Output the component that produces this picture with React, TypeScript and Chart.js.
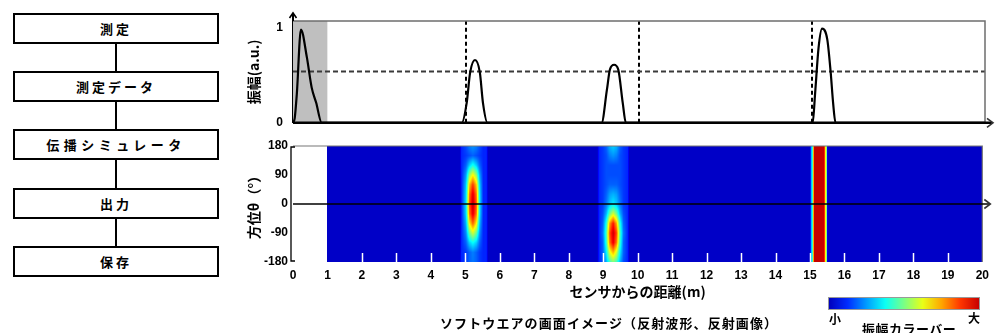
import React, { useEffect, useRef } from 'react';
import { Chart, registerables } from 'chart.js';

Chart.register(...registerables);

// ---------- data ----------
const flowSteps = ['測定', '測定データ', '伝播シミュレータ', '出力', '保存'];

const distanceM = [0, 0.05, 0.11, 0.23, 0.4, 0.54, 0.67, 0.83, 4.88, 5.02, 5.12, 5.26, 5.4, 5.49, 5.62, 8.92, 9.07, 9.16, 9.28, 9.4, 9.53, 9.62, 15.02, 15.09, 15.19, 15.29, 15.44, 15.54, 15.61, 15.68, 20];
const amplitude = [0, 0.05, 0.3, 0.98, 0.69, 0.37, 0.21, 0, 0, 0.21, 0.53, 0.66, 0.53, 0.21, 0, 0, 0.34, 0.56, 0.61, 0.56, 0.21, 0, 0, 0.31, 0.79, 0.99, 0.88, 0.53, 0.21, 0, 0];
const amplitudeTicks = [0, 1];
const amplitudeMax = 1.07;
const shadeRange = [0, 1];
const thresholdLevel = 0.54;
const markerDistances = [5, 10, 15];

const distanceTicks = [0, 1, 2, 3, 4, 5, 6, 7, 8, 9, 10, 11, 12, 13, 14, 15, 16, 17, 18, 19, 20];
const azimuthTicks = [180, 90, 0, -90, -180];

const heatRangeX = [1, 20];
const heatBackground = 0.07;
const rowThetas = [180, 150, 120, 90, 60, 30, 0, -30, -60, -90, -120, -150, -180];

const blobAX = [4.84, 4.89, 5.02, 5.12, 5.22, 5.32, 5.42, 5.52, 5.61, 5.66];
const blobAValues = [
  [0.07, 0.16, 0.2, 0.25, 0.27, 0.25, 0.2, 0.16, 0.16, 0.07],
  [0.07, 0.16, 0.18, 0.2, 0.22, 0.2, 0.18, 0.16, 0.16, 0.07],
  [0.07, 0.16, 0.22, 0.33, 0.4, 0.33, 0.22, 0.16, 0.16, 0.07],
  [0.07, 0.16, 0.28, 0.52, 0.63, 0.52, 0.28, 0.16, 0.16, 0.07],
  [0.07, 0.16, 0.32, 0.68, 0.82, 0.68, 0.32, 0.16, 0.16, 0.07],
  [0.07, 0.16, 0.34, 0.76, 0.91, 0.76, 0.34, 0.16, 0.16, 0.07],
  [0.07, 0.16, 0.35, 0.79, 0.94, 0.79, 0.35, 0.16, 0.16, 0.07],
  [0.07, 0.16, 0.34, 0.76, 0.91, 0.76, 0.34, 0.16, 0.16, 0.07],
  [0.07, 0.16, 0.3, 0.64, 0.78, 0.64, 0.3, 0.16, 0.16, 0.07],
  [0.07, 0.16, 0.26, 0.48, 0.58, 0.48, 0.26, 0.16, 0.16, 0.07],
  [0.07, 0.16, 0.22, 0.33, 0.38, 0.33, 0.22, 0.16, 0.16, 0.07],
  [0.07, 0.16, 0.18, 0.22, 0.25, 0.22, 0.18, 0.16, 0.16, 0.07],
  [0.07, 0.16, 0.18, 0.22, 0.24, 0.22, 0.18, 0.16, 0.16, 0.07],
];

const blobBX = [8.83, 8.88, 8.99, 9.09, 9.19, 9.29, 9.39, 9.49, 9.59, 9.71, 9.76];
const blobBValues = [
  [0.07, 0.16, 0.18, 0.22, 0.3, 0.33, 0.3, 0.22, 0.18, 0.16, 0.07],
  [0.07, 0.16, 0.18, 0.2, 0.25, 0.27, 0.25, 0.2, 0.18, 0.16, 0.07],
  [0.07, 0.16, 0.18, 0.2, 0.2, 0.2, 0.2, 0.2, 0.18, 0.16, 0.07],
  [0.07, 0.16, 0.18, 0.2, 0.2, 0.2, 0.2, 0.2, 0.18, 0.16, 0.07],
  [0.07, 0.16, 0.18, 0.2, 0.22, 0.22, 0.22, 0.2, 0.18, 0.16, 0.07],
  [0.07, 0.16, 0.18, 0.22, 0.28, 0.3, 0.28, 0.22, 0.18, 0.16, 0.07],
  [0.07, 0.16, 0.18, 0.24, 0.32, 0.36, 0.32, 0.24, 0.18, 0.16, 0.07],
  [0.07, 0.16, 0.2, 0.3, 0.48, 0.58, 0.48, 0.3, 0.2, 0.16, 0.07],
  [0.07, 0.16, 0.22, 0.4, 0.72, 0.86, 0.7, 0.4, 0.22, 0.16, 0.07],
  [0.07, 0.16, 0.24, 0.44, 0.8, 0.93, 0.8, 0.44, 0.24, 0.16, 0.07],
  [0.07, 0.16, 0.22, 0.42, 0.76, 0.9, 0.75, 0.42, 0.22, 0.16, 0.07],
  [0.07, 0.16, 0.22, 0.36, 0.6, 0.7, 0.58, 0.36, 0.22, 0.16, 0.07],
  [0.07, 0.16, 0.2, 0.3, 0.44, 0.5, 0.44, 0.3, 0.2, 0.16, 0.07],
];

const bandCX = [15.0, 15.04, 15.08, 15.12, 15.41, 15.44, 15.48, 15.51];
const bandCThetas = [180, -180];
const bandCValues = [
  [0.07, 0.3, 0.45, 0.93, 0.93, 0.65, 0.5, 0.07],
  [0.07, 0.3, 0.45, 0.93, 0.93, 0.65, 0.5, 0.07],
];

const colorbarRange = [0.06, 0.93];

// ---------- helpers ----------
const FONT = "'Liberation Sans', 'Noto Sans CJK JP', sans-serif";
const JP = "'Noto Sans CJK JP', 'Liberation Sans', sans-serif";

function jet(v: number): number[] {
  const c = (t: number) => Math.max(0, Math.min(1, t));
  return [c(1.5 - Math.abs(4 * v - 3)), c(1.5 - Math.abs(4 * v - 2)), c(1.5 - Math.abs(4 * v - 1))].map((t) => Math.round(t * 255));
}

const heatPatches = [
  { xs: blobAX, thetas: rowThetas, values: blobAValues },
  { xs: blobBX, thetas: rowThetas, values: blobBValues },
  { xs: bandCX, thetas: bandCThetas, values: bandCValues },
];

function locate(arr: number[], v: number): [number, number] | null {
  for (let i = 0; i < arr.length - 1; i++) {
    const a = arr[i];
    const b = arr[i + 1];
    if ((v - a) * (v - b) <= 0) return [i, a === b ? 0 : (v - a) / (b - a)];
  }
  return null;
}

function sampleHeat(x: number, th: number): number | null {
  if (x < heatRangeX[0] || x > heatRangeX[1]) return null;
  for (const p of heatPatches) {
    const ix = locate(p.xs, x);
    if (!ix) continue;
    const iy = locate(p.thetas, th);
    if (!iy) continue;
    const [i, tx] = ix;
    const [j, ty] = iy;
    const r0 = p.values[j];
    const r1 = p.values[j + 1];
    const top = r0[i] * (1 - tx) + r0[i + 1] * tx;
    const bot = r1[i] * (1 - tx) + r1[i + 1] * tx;
    return top * (1 - ty) + bot * ty;
  }
  return heatBackground;
}

function arrowRight(ctx: CanvasRenderingContext2D, x: number, y: number) {
  ctx.beginPath();
  ctx.moveTo(x - 6, y - 4.5);
  ctx.lineTo(x, y);
  ctx.lineTo(x - 6, y + 4.5);
  ctx.stroke();
}

// ---------- component ----------
export default function App() {
  const topRef = useRef<HTMLCanvasElement>(null);
  const heatRef = useRef<HTMLCanvasElement>(null);

  useEffect(() => {
    const topDecor = {
      id: 'topDecor',
      afterDraw(chart: any) {
        const { ctx, chartArea, scales } = chart;
        const { left, right, top, bottom } = chartArea;
        ctx.save();
        ctx.strokeStyle = '#6e6e6e';
        ctx.lineWidth = 1.5;
        ctx.beginPath();
        ctx.moveTo(left, top);
        ctx.lineTo(right, top);
        ctx.lineTo(right, bottom);
        ctx.stroke();
        const y0 = scales.y.getPixelForValue(0);
        ctx.strokeStyle = '#000';
        ctx.lineWidth = 2.5;
        ctx.beginPath();
        ctx.moveTo(left, y0);
        ctx.lineTo(right + 7, y0);
        ctx.stroke();
        ctx.lineWidth = 1.6;
        ctx.strokeStyle = '#333';
        arrowRight(ctx, right + 8, y0);
        ctx.strokeStyle = '#000';
        ctx.lineWidth = 2;
        ctx.beginPath();
        ctx.moveTo(left, top);
        ctx.lineTo(left, top - 8);
        ctx.stroke();
        ctx.lineWidth = 1.6;
        ctx.beginPath();
        ctx.moveTo(left - 3.5, top - 3);
        ctx.lineTo(left, top - 8);
        ctx.lineTo(left + 3.5, top - 3);
        ctx.stroke();
        ctx.restore();
      },
    };

    const heatLayer = {
      id: 'heatLayer',
      beforeDraw(chart: any) {
        const { ctx, chartArea, scales } = chart;
        const { left, right, top, bottom } = chartArea;
        const w = Math.round(right - left);
        const h = Math.round(bottom - top);
        const off = document.createElement('canvas');
        off.width = w;
        off.height = h;
        const octx = off.getContext('2d')!;
        const img = octx.createImageData(w, h);
        for (let py = 0; py < h; py++) {
          const th = scales.y.getValueForPixel(top + py + 0.5);
          for (let px = 0; px < w; px++) {
            const xv = scales.x.getValueForPixel(left + px + 0.5);
            const v = sampleHeat(xv, th);
            if (v === null) continue;
            const [r, g, b] = jet(v);
            const k = (py * w + px) * 4;
            img.data[k] = r;
            img.data[k + 1] = g;
            img.data[k + 2] = b;
            img.data[k + 3] = 255;
          }
        }
        octx.putImageData(img, 0, 0);
        ctx.drawImage(off, left, top);
      },
      afterDraw(chart: any) {
        const { ctx, chartArea, scales } = chart;
        const { left, right, top, bottom } = chartArea;
        ctx.save();
        ctx.strokeStyle = '#ffffff';
        ctx.lineWidth = 1.5;
        for (const d of distanceTicks) {
          if (d <= heatRangeX[0] || d >= heatRangeX[1]) continue;
          const x = Math.round(scales.x.getPixelForValue(d)) + 0.5;
          ctx.beginPath();
          ctx.moveTo(x, bottom - 9);
          ctx.lineTo(x, bottom);
          ctx.stroke();
        }
        ctx.strokeStyle = '#777';
        ctx.lineWidth = 1.2;
        ctx.beginPath();
        ctx.moveTo(left, top);
        ctx.lineTo(right, top);
        ctx.lineTo(right, bottom);
        ctx.stroke();
        const y0 = scales.y.getPixelForValue(0);
        ctx.strokeStyle = '#000';
        ctx.lineWidth = 1.3;
        ctx.beginPath();
        ctx.moveTo(left, y0);
        ctx.lineTo(right + 7, y0);
        ctx.stroke();
        ctx.strokeStyle = '#333';
        ctx.lineWidth = 1.6;
        arrowRight(ctx, right + 8, y0);
        ctx.strokeStyle = '#000';
        ctx.lineWidth = 1.3;
        ctx.beginPath();
        ctx.moveTo(left - 2 + 4, top + 1);
        ctx.lineTo(left - 2, top + 1);
        ctx.lineTo(left - 2, bottom - 1);
        ctx.lineTo(left - 2 + 4, bottom - 1);
        ctx.stroke();
        ctx.restore();
      },
    };

    const tickFont = { family: FONT, size: 12, weight: 'bold' as const };

    const topChart = new Chart(topRef.current!, {
      type: 'line',
      data: {
        datasets: [
          {
            label: 'signal',
            data: distanceM.map((x, i) => ({ x, y: amplitude[i] })),
            borderColor: '#000',
            borderWidth: 2.2,
            pointRadius: 0,
            cubicInterpolationMode: 'monotone',
            fill: false,
            order: 1,
          },
          {
            label: 'threshold',
            data: [{ x: 0, y: thresholdLevel }, { x: 20, y: thresholdLevel }],
            borderColor: '#3a3a3a',
            borderWidth: 2,
            borderDash: [5, 3],
            pointRadius: 0,
            fill: false,
            order: 2,
          },
          ...markerDistances.map((d) => ({
            label: 'marker' + d,
            data: [{ x: d, y: 0 }, { x: d, y: amplitudeMax }],
            borderColor: '#000',
            borderWidth: 2,
            borderDash: [4, 3],
            pointRadius: 0,
            fill: false,
            order: 2,
          })),
          {
            label: 'shade',
            data: shadeRange.map((x) => ({ x, y: amplitudeMax })),
            borderWidth: 0,
            borderColor: 'rgba(0,0,0,0)',
            backgroundColor: '#bfbfbf',
            pointRadius: 0,
            fill: 'origin',
            order: 3,
          },
        ] as any,
      },
      options: {
        responsive: false,
        animation: false,
        devicePixelRatio: 1,
        events: [],
        layout: { padding: { left: 0, right: 10, top: 21, bottom: 8 } },
        plugins: { legend: { display: false }, tooltip: { enabled: false } },
        scales: {
          x: { type: 'linear', min: 0, max: 20, display: false },
          y: {
            type: 'linear',
            min: 0,
            max: amplitudeMax,
            afterBuildTicks: (s: any) => {
              s.ticks = amplitudeTicks.map((v) => ({ value: v }));
            },
            afterFit: (s: any) => {
              s.width = 53;
            },
            grid: { display: false, drawTicks: false },
            border: { display: true, color: '#000', width: 2 },
            ticks: { padding: 10, font: tickFont, color: '#000' },
            title: {
              display: true,
              text: '振幅(a.u.)',
              color: '#000',
              font: { family: JP, size: 14, weight: 'bold' },
              padding: { top: 5, bottom: 0 },
            },
          },
        },
      } as any,
      plugins: [topDecor],
    });

    const heatChart = new Chart(heatRef.current!, {
      type: 'scatter',
      data: { datasets: [{ label: 'heat', data: [] }] },
      options: {
        responsive: false,
        animation: false,
        devicePixelRatio: 1,
        events: [],
        layout: { padding: { left: 0, right: 10, top: 14, bottom: 31 } },
        plugins: { legend: { display: false }, tooltip: { enabled: false } },
        scales: {
          x: {
            type: 'linear',
            min: 0,
            max: 20,
            afterBuildTicks: (s: any) => {
              s.ticks = distanceTicks.map((v) => ({ value: v }));
            },
            afterFit: (s: any) => {
              s.height = 40;
            },
            grid: { display: false, drawTicks: false },
            border: { display: false },
            ticks: { padding: 6, font: tickFont, color: '#000', autoSkip: false, maxRotation: 0 },
            title: {
              display: true,
              text: 'センサからの距離(m)',
              color: '#000',
              font: { family: JP, size: 14, weight: 'bold' },
              padding: { top: 0, bottom: 2 },
            },
          },
          y: {
            type: 'linear',
            min: -180,
            max: 180,
            afterBuildTicks: (s: any) => {
              s.ticks = azimuthTicks.map((v) => ({ value: v }));
            },
            afterFit: (s: any) => {
              s.width = 53;
            },
            grid: { display: false, drawTicks: false },
            border: { display: false },
            ticks: { padding: 5, font: tickFont, color: '#000' },
            title: {
              display: true,
              text: '方位θ（°）',
              color: '#000',
              font: { family: JP, size: 14, weight: 'bold' },
              padding: { top: 5, bottom: 0 },
            },
          },
        },
      } as any,
      plugins: [heatLayer],
    });

    return () => {
      topChart.destroy();
      heatChart.destroy();
    };
  }, []);

  const boxTops = [13, 71, 129, 188, 246];
  const stops = Array.from({ length: 9 }, (_, i) => {
    const v = colorbarRange[0] + ((colorbarRange[1] - colorbarRange[0]) * i) / 8;
    const [r, g, b] = jet(v);
    return `rgb(${r},${g},${b}) ${(i / 8) * 100}%`;
  }).join(', ');

  const txt: React.CSSProperties = {
    position: 'absolute',
    fontFamily: JP,
    fontWeight: 'bold',
    color: '#000',
    whiteSpace: 'nowrap',
    lineHeight: 1,
  };

  return (
    <div style={{ position: 'absolute', left: 0, top: 0, width: 995, height: 333, background: '#fff', overflow: 'hidden' }}>
      {flowSteps.map((s, i) => (
        <React.Fragment key={s}>
          <div
            style={{
              position: 'absolute',
              left: 13,
              top: boxTops[i],
              width: 206,
              height: 31,
              boxSizing: 'border-box',
              border: '2px solid #000',
              display: 'flex',
              alignItems: 'center',
              justifyContent: 'center',
              fontFamily: JP,
              fontWeight: 'bold',
              fontSize: 13,
              letterSpacing: i === 2 ? 4.5 : 3,
            }}
          >
            {s}
          </div>
          {i < flowSteps.length - 1 && (
            <div
              style={{
                position: 'absolute',
                left: 115,
                top: boxTops[i] + 31,
                width: 2,
                height: boxTops[i + 1] - boxTops[i] - 31,
                background: '#000',
              }}
            />
          )}
        </React.Fragment>
      ))}
      <canvas ref={topRef} width={755} height={140} style={{ position: 'absolute', left: 240, top: 0, width: 755, height: 140 }} />
      <canvas ref={heatRef} width={755} height={201} style={{ position: 'absolute', left: 240, top: 132, width: 755, height: 201 }} />
      <div style={{ ...txt, left: 440, top: 316, fontSize: 13, letterSpacing: 1.1 }}>ソフトウエアの画面イメージ（反射波形、反射画像）</div>
      <div
        style={{
          position: 'absolute',
          left: 828,
          top: 297,
          width: 152,
          height: 13,
          boxSizing: 'border-box',
          border: '1px solid #999',
          background: `linear-gradient(to right, ${stops})`,
        }}
      />
      <div style={{ ...txt, left: 829, top: 313, fontSize: 12 }}>小</div>
      <div style={{ ...txt, left: 968, top: 312, fontSize: 12 }}>大</div>
      <div style={{ ...txt, left: 862, top: 322, fontSize: 13, letterSpacing: 0.5 }}>振幅カラーバー</div>
    </div>
  );
}
